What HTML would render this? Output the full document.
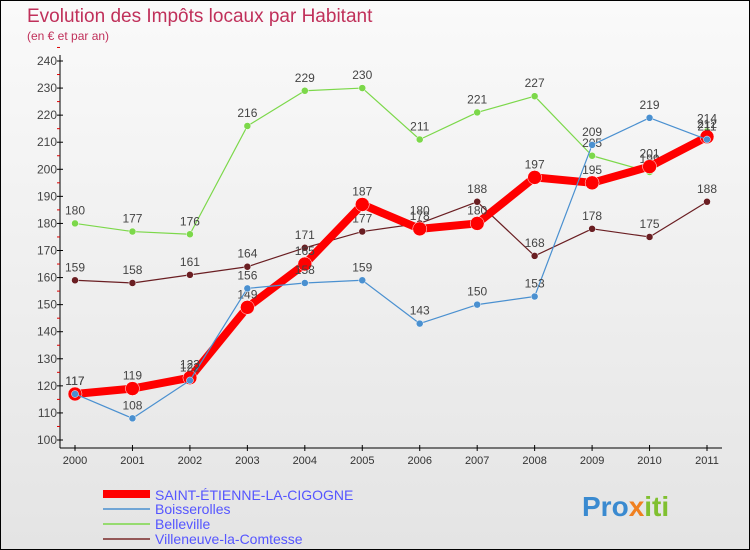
<!DOCTYPE html>
<html><head><meta charset="utf-8"><style>
body{margin:0;background:#fff}
svg{display:block;font-family:"Liberation Sans",sans-serif}
</style></head><body>
<svg width="750" height="550">
<defs><linearGradient id="bg" x1="0" y1="0" x2="0" y2="1"><stop offset="0" stop-color="#fafafa"/><stop offset="1" stop-color="#e4e4e4"/></linearGradient></defs>
<rect x="0.5" y="0.5" width="749" height="549" fill="url(#bg)" stroke="#000"/>
<text x="27" y="22" font-size="19" fill="#c0305a">Evolution des Impôts locaux par Habitant</text>
<text x="27" y="40" font-size="12" fill="#c0305a">(en € et par an)</text>
<g id="axes"></g><g id="series"></g>
<g>
<line x1="103" y1="494" x2="150" y2="494" stroke="#f00" stroke-width="8"/>
<text x="155" y="500" font-size="14" fill="#55f">SAINT-ÉTIENNE-LA-CIGOGNE</text>
<line x1="103" y1="509" x2="150" y2="509" stroke="#4a90d0" stroke-width="1.5"/>
<text x="155" y="514" font-size="14" fill="#55f">Boisserolles</text>
<line x1="103" y1="524" x2="150" y2="524" stroke="#7cd84a" stroke-width="1.5"/>
<text x="155" y="529" font-size="14" fill="#55f">Belleville</text>
<line x1="103" y1="539" x2="150" y2="539" stroke="#7a2a2a" stroke-width="1.5"/>
<text x="155" y="544" font-size="14" fill="#55f">Villeneuve-la-Comtesse</text>
</g>
<text x="582" y="516" font-size="28" font-weight="bold" fill="#3a8ad0">Pro<tspan fill="#f08020">x</tspan><tspan fill="#80c030">iti</tspan></text>
</svg>
<script>
const years=["2000","2001","2002","2003","2004","2005","2006","2007","2008","2009","2010","2011"];
const yTicks=[100,110,120,130,140,150,160,170,180,190,200,210,220,230,240];
const stEtienne=[117,119,123,149,165,187,178,180,197,195,201,212];
const boisserolles=[117,108,122,156,158,159,143,150,153,209,219,211];
const belleville=[180,177,176,216,229,230,211,221,227,205,199,214];
const villeneuve=[159,158,161,164,171,177,180,188,168,178,175,188];
const NS="http://www.w3.org/2000/svg";
const X=i=>75+i*(632/11);
const Y=v=>440-(v-100)*(379/140);
function mk(t,a,p){const e=document.createElementNS(NS,t);for(const k in a)e.setAttribute(k,a[k]);p.appendChild(e);return e;}
const ax=document.getElementById('axes');
let l=mk('line',{x1:60,y1:55,x2:60,y2:448,stroke:'#000'},ax);


l=mk('line',{x1:60,y1:448,x2:722,y2:448,stroke:'#000'},ax);


yTicks.forEach(v=>{
 const t=mk('text',{x:57,y:Y(v)+4,'font-size':12,'text-anchor':'end',fill:'#444'},ax);t.textContent=v;
 
 
 mk('line',{x1:57,y1:Y(v),x2:63,y2:Y(v),stroke:'#000'},ax);
 mk('line',{x1:57,y1:Y(v+5),x2:60,y2:Y(v+5),stroke:'#d00'},ax);
});
years.forEach((y,i)=>{
 const t=mk('text',{x:X(i),y:464,'font-size':11,'text-anchor':'middle',fill:'#333'},ax);t.textContent=y;
 
 
 mk('line',{x1:X(i),y1:445,x2:X(i),y2:451,stroke:'#000'},ax);
});
const sg=document.getElementById('series');
function draw(arr,name,col,w,r){
 const g=mk('g',{},sg);
 
 
 const p=mk('polyline',{points:arr.map((v,i)=>X(i)+','+Y(v)).join(' '),fill:'none',stroke:col,'stroke-width':w,'stroke-linejoin':'round'},g);
 
 
 arr.forEach((v,i)=>{
  const c=mk('circle',{cx:X(i),cy:Y(v),r:r,fill:col,stroke:'#fff','stroke-width':0.5},g);
  
  
  const t=mk('text',{x:X(i),y:Y(v)-9,'font-size':12,'text-anchor':'middle',fill:'#444'},g);t.textContent=v;
  
  
 });
}
draw(villeneuve,'villeneuve','#6a1e22',1.2,3.5);
draw(belleville,'belleville','#7cd84a',1.2,3.5);
draw(stEtienne,'saint-etienne','#f00',8,7);
draw(boisserolles,'boisserolles','#4a90d0',1.2,3.5);
</script>
</body></html>
